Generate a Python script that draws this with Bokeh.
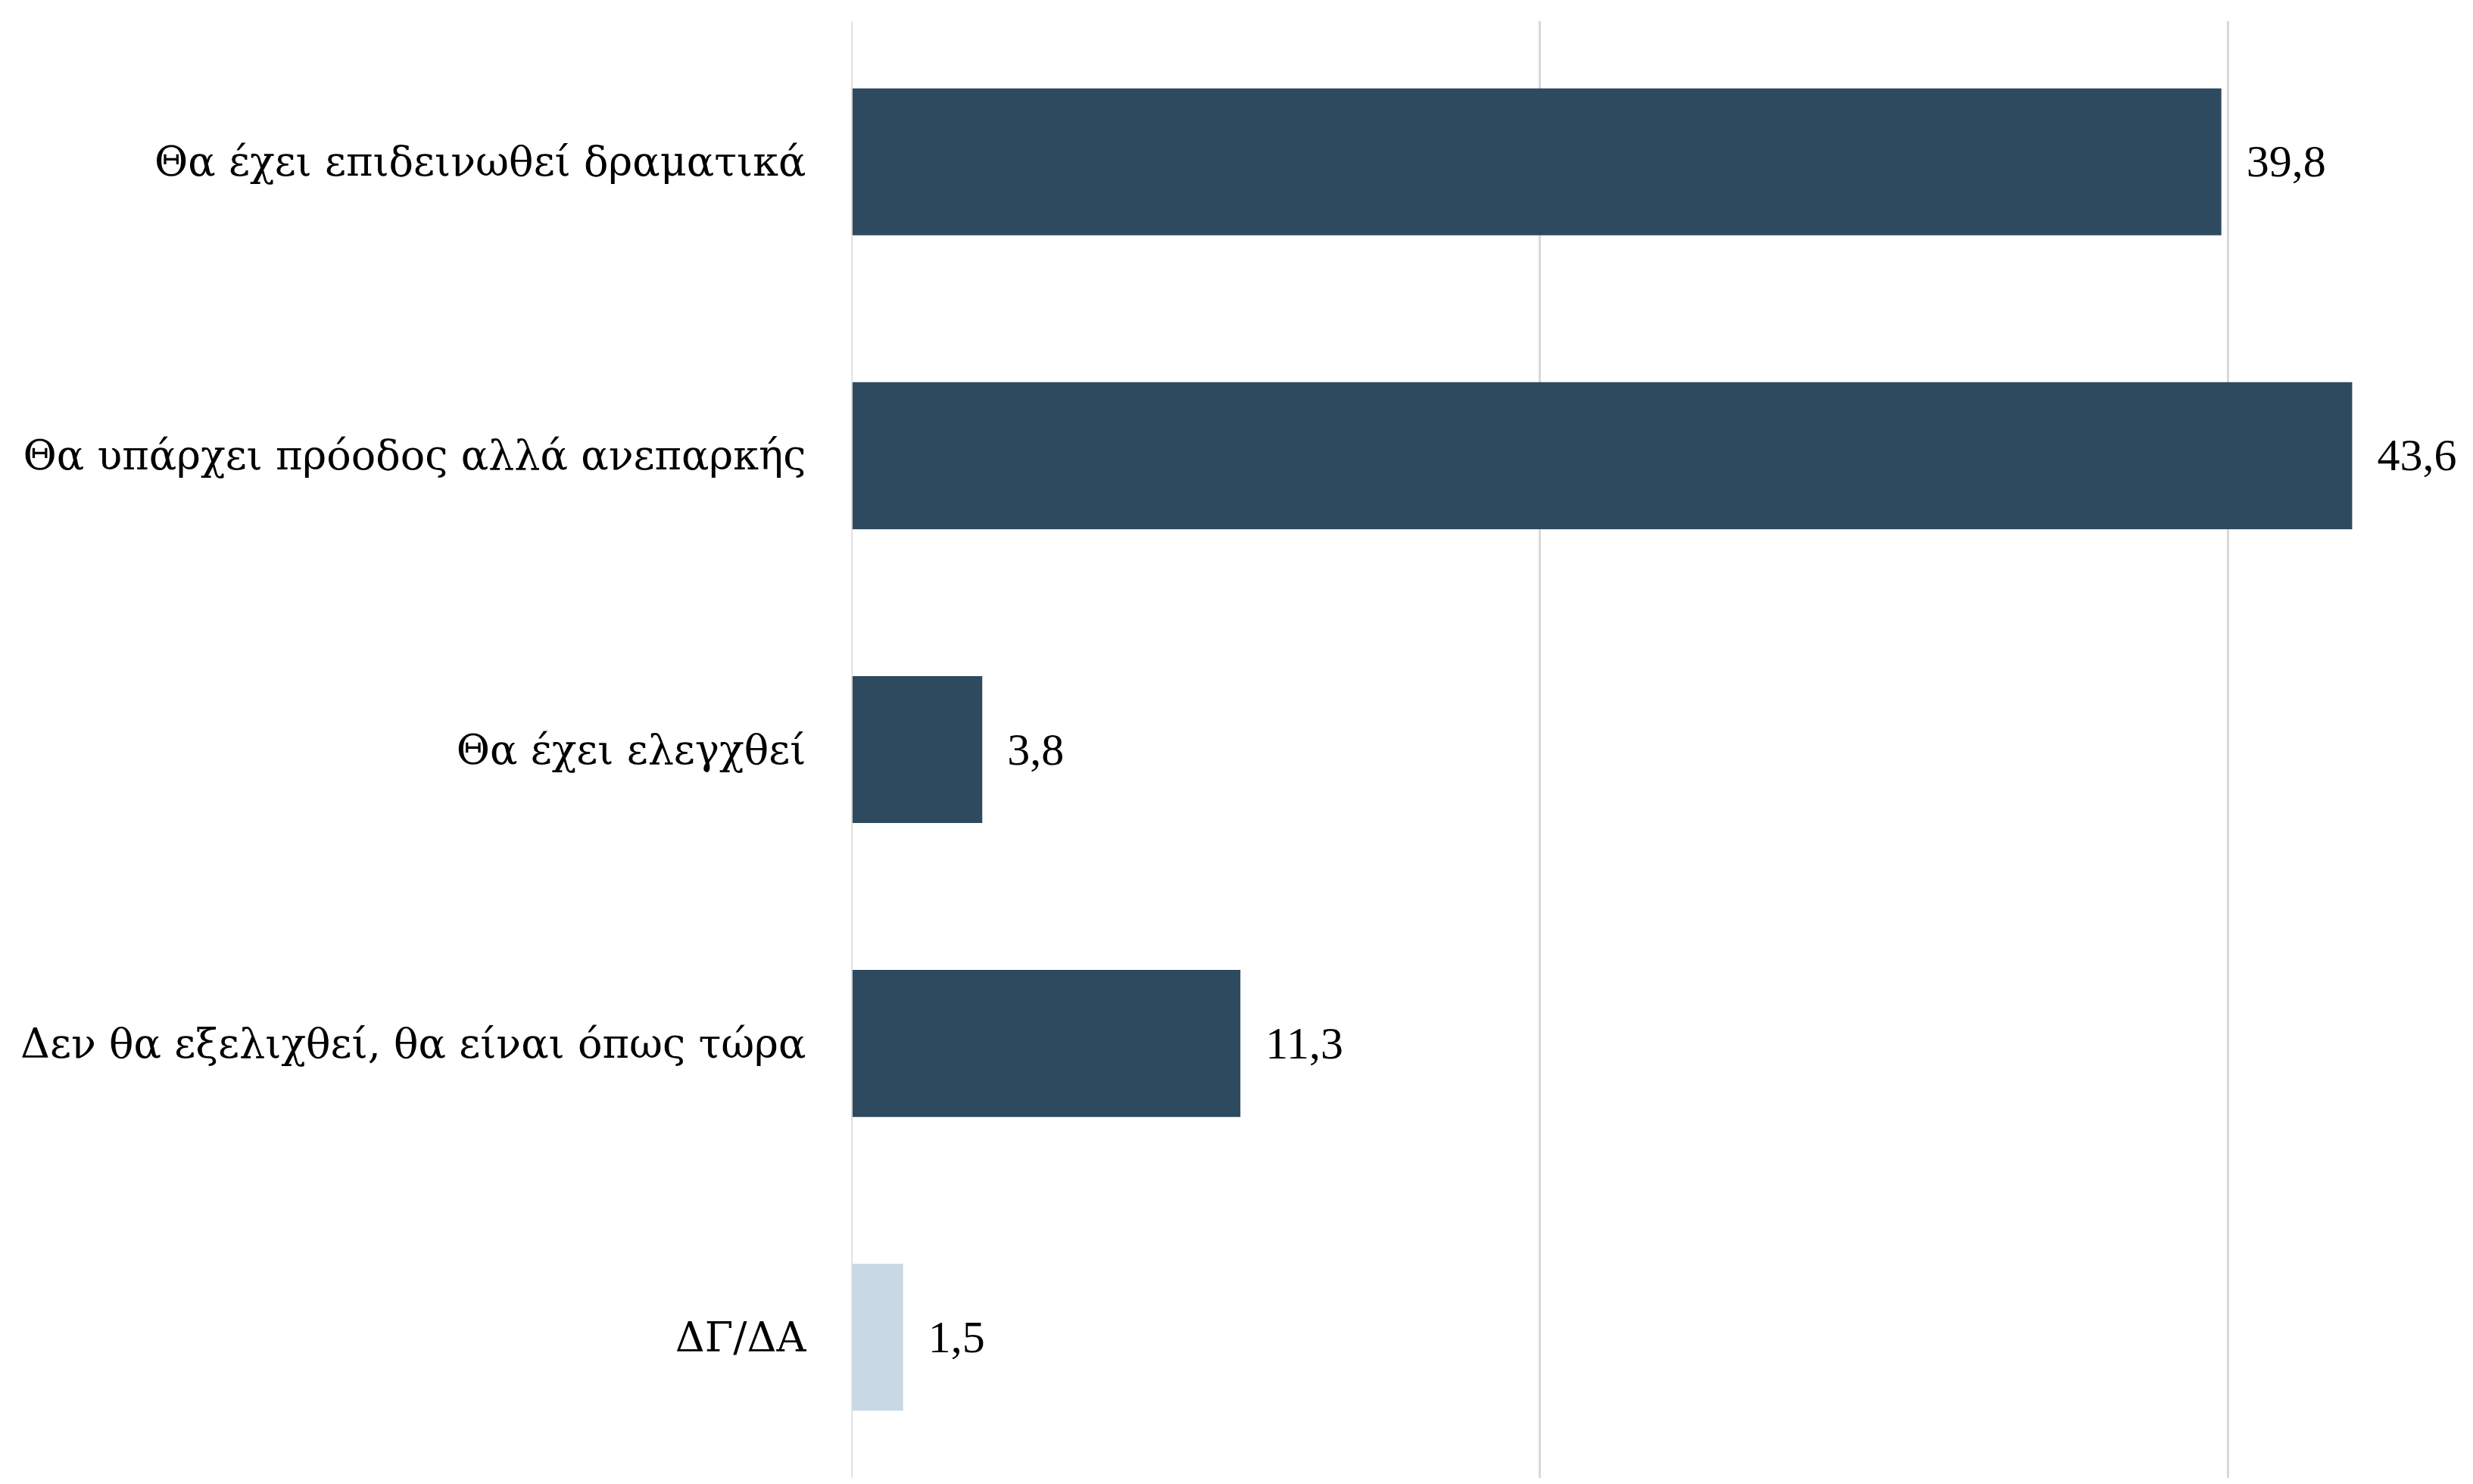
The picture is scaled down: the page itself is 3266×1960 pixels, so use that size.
from bokeh.plotting import figure
from bokeh.models import FactorRange, Range1d, ColumnDataSource, LabelSet, FixedTicker, Span
from bokeh.embed import file_html
from bokeh.resources import INLINE

categories = [
    "Θα έχει επιδεινωθεί δραματικά",
    "Θα υπάρχει πρόοδος αλλά ανεπαρκής",
    "Θα έχει ελεγχθεί",
    "Δεν θα εξελιχθεί, θα είναι όπως τώρα",
    "ΔΓ/ΔΑ",
]
values = [39.8, 43.6, 3.8, 11.3, 1.5]
grid_ticks = [0, 20, 40]

DARK = "#2d4a5f"
LIGHT = "#c8d8e5"
GRID = "#d9d9d9"
FONT = "DejaVu Serif"

value_labels = [f"{v:.1f}".replace(".", ",") for v in values]
colors = [LIGHT if c == "ΔΓ/ΔΑ" else DARK for c in categories]

src = ColumnDataSource(dict(cat=categories, val=values, lab=value_labels, color=colors))

p = figure(
    width=3250, height=1952,
    y_range=FactorRange(factors=list(reversed(categories)),
                        range_padding=-0.02, range_padding_units="absolute"),
    x_range=Range1d(0, 46.77),
    output_backend="svg", toolbar_location=None,
    min_border_left=1124, min_border_top=27, min_border_bottom=0, min_border_right=0,
)
p.hbar(y="cat", left=0, right="val", height=0.5, color="color", line_color=None, source=src)

# baseline gridline drawn on top so it stays visible at the bars' left edge
p.add_layout(Span(location=grid_ticks[0], dimension="height", line_color=GRID,
                  line_width=3, level="overlay"))

labels = LabelSet(x="val", y="cat", text="lab", source=src, x_offset=33,
                  text_baseline="middle", text_align="left",
                  text_font=FONT, text_font_size="60px", text_color="#000000")
p.add_layout(labels)

p.xaxis.visible = False
p.xgrid.ticker = FixedTicker(ticks=grid_ticks)
p.xgrid.grid_line_color = GRID
p.xgrid.grid_line_width = 3
p.ygrid.visible = False
p.outline_line_color = None

p.yaxis.axis_line_color = None
p.yaxis.major_tick_line_color = None
p.yaxis.minor_tick_line_color = None
p.yaxis.major_label_text_font = FONT
p.yaxis.major_label_text_font_size = "54px"
p.yaxis.major_label_text_color = "#000000"
p.yaxis.major_label_standoff = 54

open("out.html", "w").write(file_html(p, INLINE))
